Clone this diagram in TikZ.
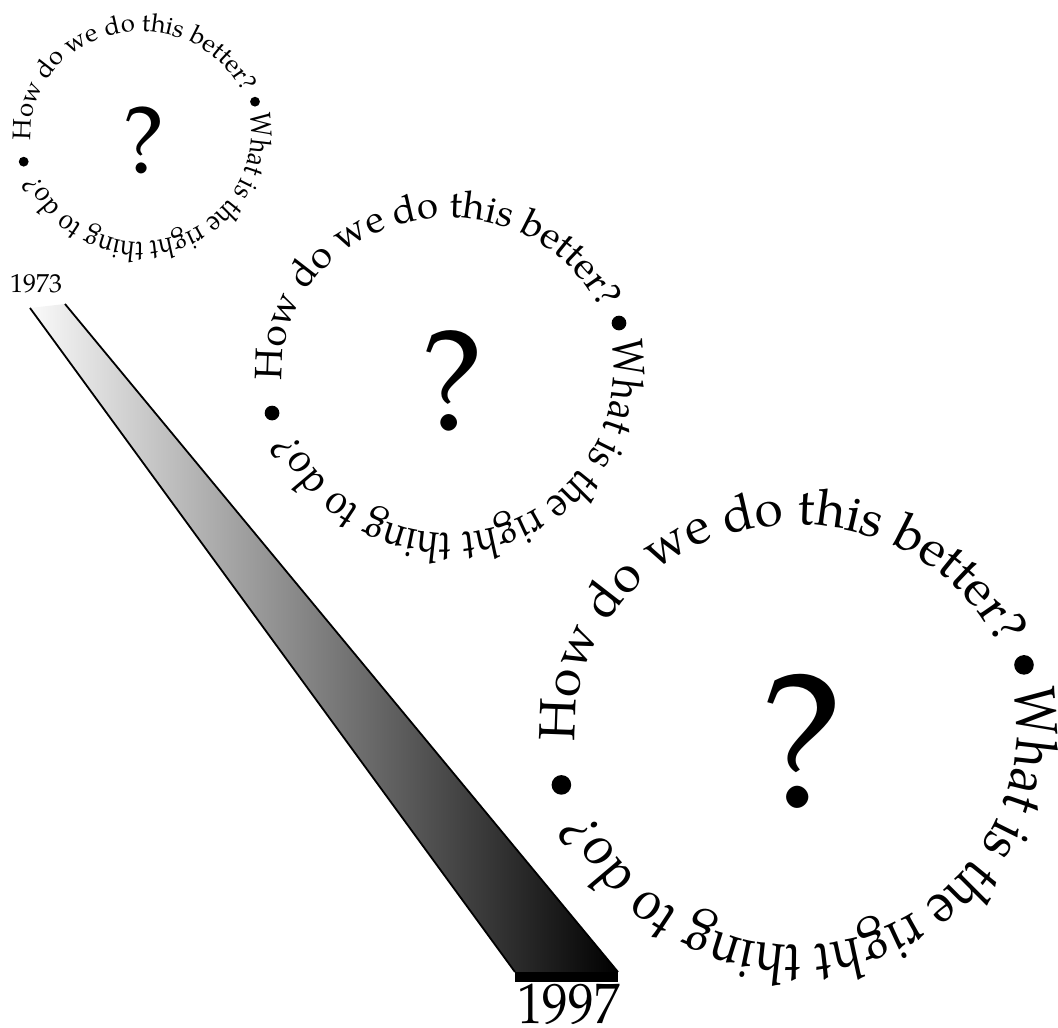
\documentclass[tikz,border=0pt]{standalone}
\usepackage{fontspec}
\newfontfamily\palfam{texgyrepagella-regular.otf}
\newfontfamily\palcond{texgyrepagella-regular.otf}[FakeStretch=0.85]
\usetikzlibrary{decorations.text}
\newcommand\palfont[1]{\fontsize{#1}{#1}\palfam}
\newcommand\palcfont[1]{\fontsize{#1}{#1}\palcond}
\tikzset{
  bul/.style={circle, fill=black, draw=none, inner sep=0pt},
  qmark/.style={inner sep=0pt},
  bandedge/.style={line width=1.8pt, black},
  year/.style={inner sep=0pt}
}
\newcommand\qring[4]{%
  \begin{scope}[shift={(#2,#3)}]
    \pgfmathsetmacro\fs{25.5*#4}
    \pgfmathsetmacro\fsb{29*#4}
    \pgfmathsetmacro\ra{110.5*#4}
    \pgfmathsetmacro\rb{101.5*#4}
    \pgfmathsetmacro\rbb{109*#4}
    \pgfmathsetmacro\qs{96*#4}
    \pgfmathsetmacro\bd{9.8*#4}
    \path[decorate, decoration={text along path, text align=fit to path,
      text={|\palfont{\fs}|How do we do this better?}}]
      (184:\ra pt and \rb pt) arc[start angle=184, end angle=25, x radius=\ra pt, y radius=\rb pt];
    \path[decorate, decoration={text along path, text align=fit to path,
      text={|\palcfont{\fsb}|What is the right thing to do?}}]
      (10.3:\ra pt and \rbb pt) arc[start angle=10.3, end angle=-157, x radius=\ra pt, y radius=\rbb pt];
    \node[bul, minimum size=\bd pt] (#1b1) at (-117.3*#4, -28.7*#4) {};
    \node[bul, minimum size=\bd pt] (#1b2) at (114*#4, 31.3*#4) {};
    \node[qmark, font=\palfont{\qs}] (#1q) at (3*#4, -7*#4) {?};
  \end{scope}}
\begin{document}
\begin{tikzpicture}[x=1pt, y=1pt]
  \useasboundingbox (0,0) rectangle (1058,1028);
  % band
  \coordinate (tl) at (30,720);
  \coordinate (tr) at (65,724);
  \coordinate (bl) at (515,56);
  \coordinate (br) at (618,56);
  \shade[left color=gray!4, right color=black] (tl) -- (tr) -- (br) -- (bl) -- cycle;
  \draw[bandedge] (tl) -- (bl);
  \draw[bandedge] (tr) -- (br);
  \fill[black] (515,46) rectangle (618,56);
  \node[year, font=\palfont{26}] (y1) at (36,744) {1973};
  \node[year] (y2) at (568.5,24) {\scalebox{0.9}[1]{\palfont{57}1997}};
  % rings
  \qring{A}{141}{895}{1}
  \qring{B}{448}{658}{1.5}
  \qring{C}{796}{300.5}{2}
\end{tikzpicture}
\end{document}
